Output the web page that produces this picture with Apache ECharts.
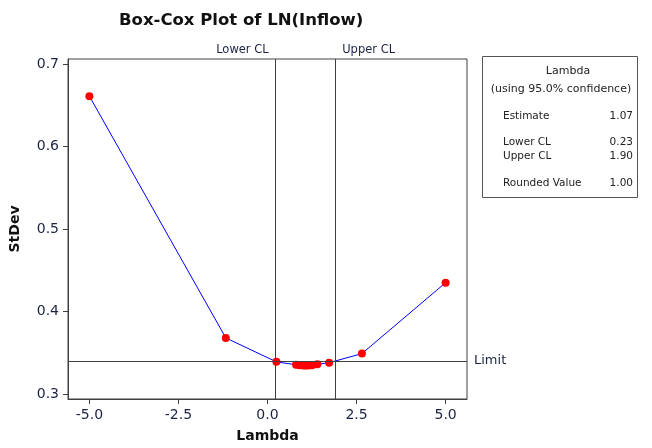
<!DOCTYPE html>
<html>
<head>
<meta charset="utf-8">
<script src="https://cdn.jsdelivr.net/npm/echarts@6/dist/echarts.min.js"></script>
<style>
  html, body { margin: 0; padding: 0; background: #fff; }
  #chart { width: 652px; height: 448px; }
</style>
</head>
<body>
<div id="chart"></div>
<script>
// Box-Cox profile: standard deviation of the transformed data for each lambda
const lambdas = [-5, -1.17, 0.25, 0.8, 0.9, 1.0, 1.07, 1.15, 1.25, 1.4, 1.73, 2.65, 5];
const stdevs  = [0.661, 0.368, 0.339, 0.3355, 0.335, 0.3347, 0.3346, 0.3347, 0.335, 0.336, 0.338, 0.349, 0.435];

// Confidence interval summary
const estimate = 1.07;
const lowerCL = 0.23;
const upperCL = 1.90;
const roundedValue = 1.00;
const limitValue = 0.339;

// Axis tick labels
const xTicks = [-5, -2.5, 0, 2.5, 5];
const yTicks = [0.3, 0.4, 0.5, 0.6, 0.7];

const FONT = 'DejaVu Sans';
const INK = '#1c2342';
const FRAME = '#404040';

const chart = echarts.init(document.getElementById('chart'), null, { renderer: 'canvas' });

const summaryRows = [
  ['Estimate', estimate, 116],
  ['Lower CL', lowerCL, 142],
  ['Upper CL', upperCL, 156],
  ['Rounded Value', roundedValue, 183]
];

const graphics = [
  {
    type: 'rect',
    shape: { x: 482.5, y: 56.5, width: 155, height: 141 },
    style: { fill: '#fff', stroke: '#555', lineWidth: 1 }
  },
  {
    type: 'text', x: 568, y: 71,
    style: { text: 'Lambda', font: '11px "' + FONT + '"', fill: '#222', align: 'center', verticalAlign: 'middle' }
  },
  {
    type: 'text', x: 561, y: 89,
    style: { text: '(using 95.0% confidence)', font: '11px "' + FONT + '"', fill: '#222', align: 'center', verticalAlign: 'middle' }
  }
];
summaryRows.forEach(function (r) {
  graphics.push({
    type: 'text', x: 503, y: r[2],
    style: { text: r[0], font: '10.5px "' + FONT + '"', fill: '#222', align: 'left', verticalAlign: 'middle' }
  });
  graphics.push({
    type: 'text', x: 633, y: r[2],
    style: { text: r[1].toFixed(2), font: '10.5px "' + FONT + '"', fill: '#222', align: 'right', verticalAlign: 'middle' }
  });
});

const option = {
  animation: false,
  backgroundColor: '#fff',
  title: {
    text: 'Box-Cox Plot of LN(Inflow)',
    left: 114,
    top: 7,
    textStyle: { fontFamily: FONT, fontWeight: 'bold', fontSize: 16.5, color: '#111' }
  },
  grid: {
    left: 67, top: 59, width: 400, height: 340,
    show: true, borderColor: FRAME, borderWidth: 1, backgroundColor: '#fff'
  },
  xAxis: {
    type: 'value',
    min: -5.6, max: 5.6,
    name: 'Lambda',
    nameLocation: 'middle',
    nameGap: 30,
    nameTextStyle: { fontFamily: FONT, fontWeight: 'bold', fontSize: 14, color: '#111' },
    axisLine: { show: true, onZero: false, lineStyle: { color: FRAME, width: 1 } },
    axisTick: { show: true, inside: false, length: 5, lineStyle: { color: FRAME }, customValues: xTicks },
    axisLabel: {
      customValues: xTicks,
      margin: 9,
      fontFamily: FONT, fontSize: 14, color: INK,
      formatter: function (v) { return v.toFixed(1); }
    },
    splitLine: { show: false }
  },
  yAxis: {
    type: 'value',
    min: 0.294, max: 0.706,
    name: 'StDev',
    nameLocation: 'middle',
    nameGap: 46,
    nameTextStyle: { fontFamily: FONT, fontWeight: 'bold', fontSize: 14, color: '#111' },
    axisLine: { show: true, onZero: false, lineStyle: { color: FRAME, width: 1 } },
    axisTick: { show: true, inside: false, length: 5, lineStyle: { color: FRAME }, customValues: yTicks },
    axisLabel: {
      customValues: yTicks,
      margin: 9,
      fontFamily: FONT, fontSize: 14, color: INK,
      formatter: function (v) { return v.toFixed(1); }
    },
    splitLine: { show: false }
  },
  graphic: graphics,
  series: [
    {
      type: 'line',
      data: lambdas.map(function (l, i) { return [l, stdevs[i]]; }),
      lineStyle: { color: '#0000ff', width: 1 },
      symbol: 'circle',
      symbolSize: 8,
      itemStyle: { color: '#ff0000' },
      markLine: {
        silent: true,
        symbol: 'none',
        animation: false,
        lineStyle: { color: FRAME, width: 1, type: 'solid' },
        label: { fontFamily: FONT, fontSize: 11.5, color: INK },
        data: [
          {
            xAxis: lowerCL,
            label: { formatter: 'Lower CL', position: 'end', align: 'right', padding: [0, 7, 0, 0], distance: 3 }
          },
          {
            xAxis: upperCL,
            label: { formatter: 'Upper CL', position: 'end', align: 'left', padding: [0, 0, 0, 7], distance: 3 }
          },
          {
            yAxis: limitValue,
            label: { formatter: 'Limit', position: 'end', distance: 7, fontSize: 13 }
          }
        ]
      }
    }
  ]
};

chart.setOption(option);
</script>
</body>
</html>
